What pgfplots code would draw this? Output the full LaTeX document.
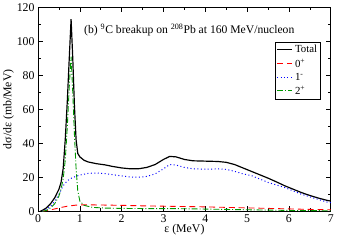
\documentclass[border=0pt]{standalone}
\usepackage{fontspec}
\setmainfont{Liberation Serif}
\usepackage{pgfplots}
\pgfplotsset{compat=1.18}
\definecolor{dgreen}{RGB}{0,150,0}
\begin{document}
\begin{tikzpicture}
\begin{axis}[
  scale only axis, width=297pt, height=207pt,
  xmin=0, xmax=7, ymin=0, ymax=120,
  xtick={0,1,...,7}, ytick={0,20,...,120},
  minor x tick num=1, minor y tick num=1,
  tick align=inside, major tick length=5pt, minor tick length=3pt,
  tick style={black, line width=0.6pt},
  axis line style={line width=0.8pt},
  /pgf/number format/assume math mode=true,
  ticklabel style={font=\fontsize{12}{14}\selectfont},
  xlabel={ε (MeV)}, ylabel={dσ/dε (mb/MeV)},
  label style={font=\fontsize{12}{14}\selectfont},
  xlabel style={yshift=5pt}, ylabel style={yshift=-4pt},
  legend style={at={(0.966,0.831)}, anchor=north east, font=\fontsize{11}{13}\selectfont,
    row sep=0.5pt, inner sep=1.5pt},
  legend cell align=left,
  legend image code/.code={\draw[#1, line width=1.2pt] (0pt,0pt) -- (0.55cm,0pt);},
]
\addplot[black, line width=1.2pt] coordinates {(0.05,0)(0.1,0.5)(0.2,2)(0.3,4.5)(0.4,8)(0.5,13)(0.55,17)(0.6,25)(0.65,42)(0.7,65)(0.75,92)(0.79,113)(0.83,90)(0.87,62)(0.91,42)(0.95,34)(1.0,32)(1.1,30)(1.2,29)(1.4,28)(1.6,27.3)(1.8,26.3)(2.0,25.5)(2.2,25)(2.4,25)(2.6,25.8)(2.8,27.5)(3.0,30.5)(3.15,32.3)(3.3,32)(3.5,30.5)(3.7,29.7)(4.0,29.5)(4.3,29.3)(4.5,28.8)(4.7,27.5)(4.9,25.5)(5.1,23.5)(5.3,21.5)(5.5,19.5)(5.7,17.3)(5.9,15)(6.1,13)(6.3,11)(6.5,9.3)(6.7,7.8)(6.9,6.5)(7.0,6)};
\addlegendentry{Total}
\addplot[red, line width=0.9pt, dash pattern=on 6pt off 4pt] coordinates {(0.1,0)(0.3,0.8)(0.5,2)(0.7,3)(0.9,3.6)(1.1,3.8)(1.5,3.7)(2,3.5)(2.5,3.2)(3,3)(3.5,2.8)(4,2.6)(4.5,2.3)(5,2)(5.5,1.7)(6,1.4)(6.5,1.1)(7,0.9)};
\addlegendentry{0\textsuperscript{+}}
\addplot[blue, line width=1pt, dash pattern=on 1pt off 2.5pt] coordinates {(0.1,0)(0.2,1)(0.3,3)(0.4,6)(0.5,10)(0.6,15)(0.7,18)(0.8,19.5)(0.9,20.5)(1.0,21.3)(1.2,22.3)(1.4,22.5)(1.6,22.2)(1.8,21.5)(2.0,20.8)(2.2,20.2)(2.4,20)(2.6,20.5)(2.8,22)(3.0,25)(3.15,27.5)(3.3,27.2)(3.5,25.8)(3.7,25)(4.0,24.8)(4.3,24.9)(4.5,24.7)(4.7,23.5)(4.9,22)(5.1,21)(5.3,19)(5.5,17)(5.7,15.5)(5.9,14)(6.1,12)(6.3,10)(6.5,8.5)(6.7,7)(6.9,5.5)(7.0,5)};
\addlegendentry{1\textsuperscript{-}}
\addplot[dgreen, line width=0.9pt, dash pattern=on 6pt off 2pt on 1pt off 2pt] coordinates {(0.1,0)(0.2,0.5)(0.3,2)(0.4,4.5)(0.5,9)(0.55,13)(0.6,19)(0.65,30)(0.7,50)(0.75,75)(0.79,91)(0.83,70)(0.87,45)(0.91,25)(0.95,12)(1.0,6)(1.1,3.5)(1.3,2.3)(1.6,1.9)(2,1.7)(2.5,1.6)(3,1.6)(3.5,1.5)(4,1.3)(4.5,1.1)(5,0.9)(5.5,0.7)(6,0.5)(6.5,0.4)(7,0.3)};
\addlegendentry{2\textsuperscript{+}}
\node[anchor=west, font=\fontsize{11.8}{13}\selectfont, inner sep=0pt] at (axis cs:1.1,106.5) {(b) \textsuperscript{9}C breakup on \textsuperscript{208}Pb at 160 MeV/nucleon};
\end{axis}
\end{tikzpicture}
\end{document}
